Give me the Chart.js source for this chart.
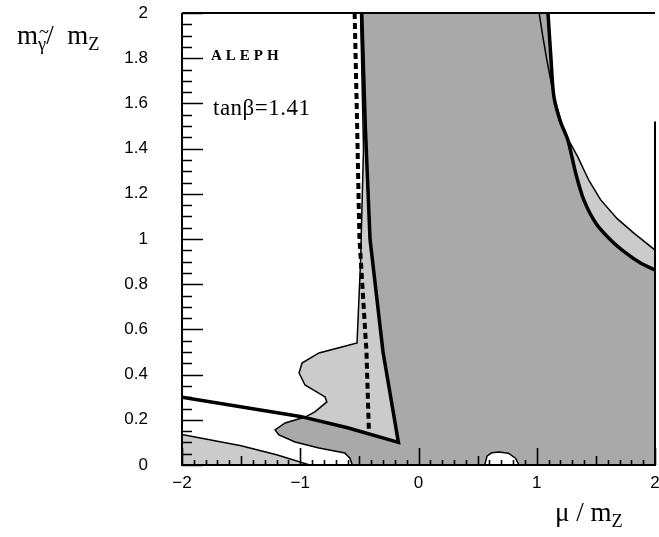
<!DOCTYPE html>
<html>
<head>
<meta charset="utf-8">
<script src="https://cdn.jsdelivr.net/npm/chart.js@4.4.1/dist/chart.umd.min.js"></script>
<style>
  html, body { margin: 0; padding: 0; background: #fff; }
  #wrap { position: relative; width: 659px; height: 537px; }
  .lbl { position: absolute; font-family: "Liberation Serif", serif; color: #000; line-height: 1; white-space: nowrap; }
  .lbl sub { font-size: 0.68em; vertical-align: -0.35em; }
  .tg { position: relative; }
  .tg i { position: absolute; left: 0.05em; top: -0.62em; font-style: normal; }
</style>
</head>
<body>
<div id="wrap">
  <canvas id="chart" width="659" height="537"></canvas>
  <div class="lbl" style="left:17px;top:22px;font-size:27px">m<sub class="tg">γ<i>~</i></sub>/&nbsp;&nbsp;m<sub>Z</sub></div>
  <div class="lbl" style="left:211px;top:48px;font-size:15px;font-weight:bold;letter-spacing:4px">ALEPH</div>
  <div class="lbl" style="left:213px;top:96px;font-size:23px;letter-spacing:0.5px">tanβ=1.41</div>
  <div class="lbl" style="left:555px;top:499px;font-size:27px">μ /&nbsp;m<sub>Z</sub></div>
</div>
<script>
// --- axis ticks ---
const xTicks = [-2, -1, 0, 1, 2];
const xTickLabels = ['−2', '−1', '0', '1', '2'];
const yTicks = [0, 0.2, 0.4, 0.6, 0.8, 1, 1.2, 1.4, 1.6, 1.8, 2];
const yTickLabels = ['0', '0.2', '0.4', '0.6', '0.8', '1', '1.2', '1.4', '1.6', '1.8', '2'];

// --- excluded region (thin outline), [mu/mZ, m/mZ] ---
const excludedRegion = [
  [-0.49, 2], [1.02, 2], [1.05, 1.9], [1.086, 1.79], [1.145, 1.63], [1.2, 1.53],
  [1.246, 1.46], [1.347, 1.363], [1.44, 1.26], [1.541, 1.173], [1.68, 1.09],
  [1.819, 1.027], [2, 0.951], [2, 0], [0.85, 0], [0.82, 0.03], [0.76, 0.052],
  [0.68, 0.058], [0.62, 0.054], [0.58, 0.04], [0.56, 0], [-0.56, 0], [-0.58, 0.03],
  [-0.623, 0.053], [-0.842, 0.075], [-1.044, 0.102], [-1.18, 0.133], [-1.213, 0.155],
  [-1.128, 0.186], [-0.96, 0.212], [-0.876, 0.235], [-0.775, 0.279], [-0.79, 0.301],
  [-0.96, 0.354], [-1.01, 0.407], [-0.985, 0.451], [-0.842, 0.496], [-0.648, 0.522],
  [-0.52, 0.54], [-0.49, 0.9], [-0.465, 1.4], [-0.49, 2]
];

// small excluded band in the lower left corner
const lowerLeftBand = [
  [-2, 0], [-2, 0.135], [-1.5, 0.085], [-1.2, 0.045], [-0.92, 0], [-2, 0]
];

// denser shading inside the thick contours
const coreRegion = [
  [-0.48, 2], [1.095, 2], [1.12, 1.8], [1.145, 1.63], [1.2, 1.52], [1.263, 1.438],
  [1.33, 1.29], [1.398, 1.173], [1.5, 1.07], [1.625, 0.996], [1.75, 0.94],
  [1.878, 0.894], [2, 0.863], [2, 0], [0.85, 0], [0.82, 0.03], [0.76, 0.052],
  [0.68, 0.058], [0.62, 0.054], [0.58, 0.04], [0.56, 0], [-0.56, 0], [-0.58, 0.03],
  [-0.623, 0.053], [-0.842, 0.075], [-1.044, 0.102], [-1.18, 0.133], [-1.213, 0.155],
  [-1.128, 0.186], [-0.96, 0.212], [-0.6, 0.165], [-0.17, 0.1], [-0.3, 0.5],
  [-0.41, 1.0], [-0.45, 1.5], [-0.48, 2]
];

// --- contour lines ---
const thickLeft = [
  [-2, 0.30], [-1.0, 0.215], [-0.6, 0.165], [-0.17, 0.10], [-0.30, 0.5],
  [-0.41, 1.0], [-0.45, 1.5], [-0.48, 2]
];
const thickRight = [
  [1.095, 2], [1.12, 1.8], [1.145, 1.63], [1.2, 1.52], [1.263, 1.438], [1.33, 1.29],
  [1.398, 1.173], [1.5, 1.07], [1.625, 0.996], [1.75, 0.94], [1.878, 0.894], [2, 0.863]
];
const dashedLine = [
  [-0.54, 2], [-0.52, 1.53], [-0.50, 1.01], [-0.44, 0.50], [-0.42, 0.16]
];

const toXY = arr => arr.map(([x, y]) => ({ x, y }));

// inward tick marks and frame
const frameTicks = {
  id: 'frameTicks',
  afterDatasetsDraw(chart) {
    const { ctx, chartArea: a, scales: { x, y } } = chart;
    ctx.save();
    ctx.strokeStyle = '#000';
    ctx.lineWidth = 2;
    ctx.beginPath();
    ctx.moveTo(a.left, a.top); ctx.lineTo(a.right, a.top);
    ctx.moveTo(a.left, a.top); ctx.lineTo(a.left, a.bottom); ctx.lineTo(a.right, a.bottom);
    ctx.lineTo(a.right, y.getPixelForValue(1.52));
    ctx.stroke();

    ctx.lineWidth = 1.6;
    ctx.beginPath();
    for (let k = 0; k <= 40; k++) {
      const v = k * 0.05;
      const len = k % 4 === 0 ? 21 : 10;
      const py = Math.round(y.getPixelForValue(v)) + 0.5;
      ctx.moveTo(a.left, py); ctx.lineTo(a.left + len, py);
    }
    for (let k = 0; k <= 40; k++) {
      const v = -2 + k * 0.1;
      const len = k % 10 === 0 ? 17 : (k % 5 === 0 ? 9 : 5);
      const px = Math.round(x.getPixelForValue(v)) + 0.5;
      ctx.moveTo(px, a.bottom); ctx.lineTo(px, a.bottom - len);
    }
    ctx.stroke();
    ctx.restore();
  }
};

const tickFont = { family: 'Liberation Sans', size: 17 };

new Chart(document.getElementById('chart'), {
  type: 'scatter',
  data: {
    datasets: [
      { data: toXY(dashedLine), showLine: true, borderColor: '#000', borderWidth: 4,
        borderDash: [6, 4], borderCapStyle: 'butt', fill: false, order: 1 },
      { data: toXY(thickLeft), showLine: true, borderColor: '#000', borderWidth: 3.5,
        fill: false, order: 2 },
      { data: toXY(thickRight), showLine: true, borderColor: '#000', borderWidth: 3.5,
        tension: 0.3, fill: false, order: 2 },
      { data: toXY(excludedRegion), showLine: true, borderColor: '#000', borderWidth: 1.5,
        backgroundColor: 'rgba(0,0,0,0)', fill: false, order: 3 },
      { data: toXY(coreRegion), showLine: true, borderWidth: 0, borderColor: 'rgba(0,0,0,0)',
        backgroundColor: '#a9a9a9', fill: 'shape', order: 4 },
      { data: toXY(excludedRegion), showLine: true, borderWidth: 0, borderColor: 'rgba(0,0,0,0)',
        backgroundColor: '#cbcbcb', fill: 'shape', order: 5 },
      { data: toXY(lowerLeftBand), showLine: true, borderColor: '#000', borderWidth: 1.5,
        backgroundColor: '#cbcbcb', fill: 'shape', order: 5 }
    ]
  },
  options: {
    responsive: false,
    animation: false,
    layout: { padding: { top: 13, right: 4, left: 0, bottom: 0 } },
    plugins: { legend: { display: false }, tooltip: { enabled: false } },
    elements: { point: { radius: 0 }, line: { tension: 0 } },
    scales: {
      x: {
        type: 'linear', min: -2, max: 2,
        grid: { display: false, drawTicks: false },
        border: { display: false },
        afterBuildTicks: s => { s.ticks = xTicks.map(v => ({ value: v })); },
        afterFit: s => { s.height = 72; s.paddingLeft = 0; s.paddingRight = 0; },
        ticks: {
          padding: 8, color: '#000', font: tickFont, maxRotation: 0, autoSkip: false,
          callback: v => xTickLabels[xTicks.indexOf(v)]
        }
      },
      y: {
        type: 'linear', min: 0, max: 2,
        grid: { display: false, drawTicks: false },
        border: { display: false },
        afterBuildTicks: s => { s.ticks = yTicks.map(v => ({ value: v })); },
        afterFit: s => { s.width = 182; s.paddingTop = 0; s.paddingBottom = 0; },
        ticks: {
          padding: 34, color: '#000', font: tickFont, autoSkip: false,
          callback: v => yTickLabels[yTicks.indexOf(v)]
        }
      }
    }
  },
  plugins: [frameTicks]
});
</script>
</body>
</html>
